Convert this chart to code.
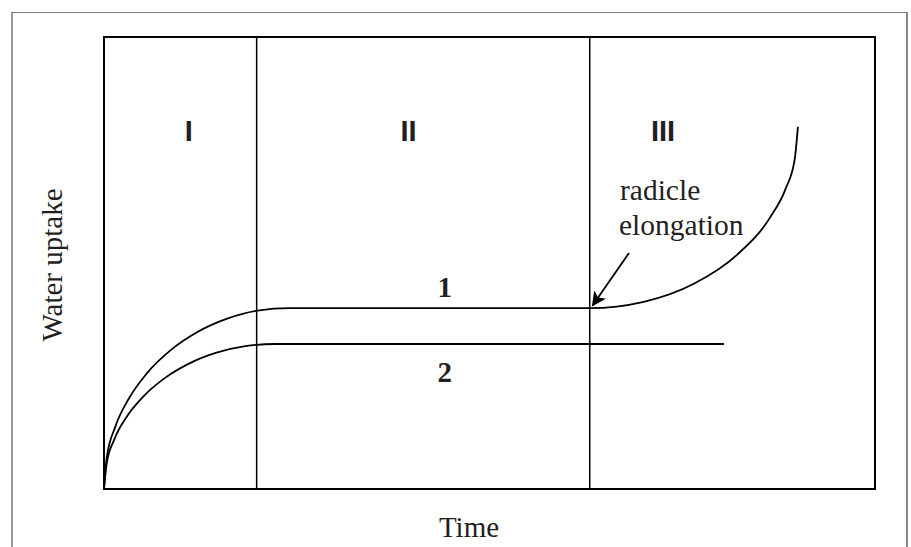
<!DOCTYPE html>
<html lang="en">
  <head>
    <meta charset="UTF-8" />
    <title>Water uptake</title>
    <style>
      body { margin: 0; background: #fff; }
      svg { display: block; }
    </style>
  </head>
  <body>
    <script src="https://d3js.org/d3.v7.min.js"></script>
    <script>
      // phase boundaries (time units) and phase names
      const phaseEdges = [0, 19.8, 63, 100];
      const phaseNames = ["I", "II", "III"];

      // curve 1 : germinating seed (time, uptake)
      const curve1Time = [0, 0.36, 1.45, 3.23, 5.64, 8.61, 12.06, 15.88, 19.92, 24.1, 63, 70, 76.5, 82.1, 86.4, 88.4, 89.6, 90];
      const curve1Uptake = [0, 6.97, 13.69, 20.02, 25.75, 30.66, 34.67, 37.63, 39.45, 40, 40, 41.4, 45.4, 51.8, 60.1, 66.4, 73.1, 80.1];

      // curve 2 : seed that stays in phase II
      const curve2Time = [0, 0.34, 1.34, 2.97, 5.19, 7.92, 11.09, 14.59, 18.33, 22.2, 80.4];
      const curve2Uptake = [0, 5.58, 10.97, 16.03, 20.62, 24.58, 27.79, 30.15, 31.59, 32.08, 32.08];

      const width = 911,
        height = 547;
      const margin = { left: 104, right: 36, top: 37, bottom: 58 };
      const ink = "#231f20";

      const svg = d3
        .select("body")
        .append("svg")
        .attr("width", width)
        .attr("height", height);

      // outer frame
      svg.append("line").attr("x1", 12).attr("y1", 12.5).attr("x2", 907).attr("y2", 12.5)
        .attr("stroke", "#808080").attr("stroke-width", 1);
      svg.append("line").attr("x1", 12).attr("y1", 12).attr("x2", 12).attr("y2", height)
        .attr("stroke", "#333").attr("stroke-width", 1);
      svg.append("line").attr("x1", 907).attr("y1", 12).attr("x2", 907).attr("y2", height)
        .attr("stroke", "#888").attr("stroke-width", 2);

      const x = d3
        .scaleLinear()
        .domain([0, 100])
        .range([margin.left, width - margin.right]);
      const y = d3
        .scaleLinear()
        .domain([0, 100])
        .range([height - margin.bottom, margin.top]);

      // plot box
      svg
        .append("rect")
        .attr("x", x(0))
        .attr("y", y(100))
        .attr("width", x(100) - x(0))
        .attr("height", y(0) - y(100))
        .attr("fill", "none")
        .attr("stroke", "#000")
        .attr("stroke-width", 2);

      // phase dividers
      svg
        .append("g")
        .selectAll("line")
        .data(phaseEdges.slice(1, -1))
        .join("line")
        .attr("x1", (d) => x(d))
        .attr("x2", (d) => x(d))
        .attr("y1", y(100))
        .attr("y2", y(0))
        .attr("stroke", "#000")
        .attr("stroke-width", 1.5);

      // phase labels
      const phaseLabelX = [11, 39.5, 72.5];
      svg
        .append("g")
        .selectAll("text")
        .data(phaseNames)
        .join("text")
        .attr("x", (d, i) => x(phaseLabelX[i]))
        .attr("y", 141)
        .attr("text-anchor", "middle")
        .attr("font-family", "Liberation Sans, Arial, sans-serif")
        .attr("font-weight", "bold")
        .attr("font-size", 29)
        .attr("fill", ink)
        .text((d) => d);

      const line = d3
        .line()
        .x((d) => x(d[0]))
        .y((d) => y(d[1]))
        .curve(d3.curveMonotoneX);

      const curve1 = curve1Time.map((t, i) => [t, curve1Uptake[i]]);
      const curve2 = curve2Time.map((t, i) => [t, curve2Uptake[i]]);

      [curve1, curve2].forEach((c) => {
        svg
          .append("path")
          .datum(c)
          .attr("d", line)
          .attr("fill", "none")
          .attr("stroke", "#000")
          .attr("stroke-width", 1.8);
      });

      // curve numbers
      const serif = "Liberation Serif, Times New Roman, serif";
      svg.append("text").attr("x", x(44.2)).attr("y", 297)
        .attr("text-anchor", "middle").attr("font-family", serif)
        .attr("font-weight", "bold").attr("font-size", 29).attr("fill", ink).text("1");
      svg.append("text").attr("x", x(44.2)).attr("y", 382)
        .attr("text-anchor", "middle").attr("font-family", serif)
        .attr("font-weight", "bold").attr("font-size", 29).attr("fill", ink).text("2");

      // annotation
      const note = svg.append("text").attr("font-family", serif)
        .attr("font-size", 29.5).attr("fill", ink);
      note.append("tspan").attr("x", 620).attr("y", 200).text("radicle");
      note.append("tspan").attr("x", 619).attr("y", 235).text("elongation");

      svg.append("defs").append("marker")
        .attr("id", "head")
        .attr("viewBox", "0 0 10 10")
        .attr("refX", 9).attr("refY", 5)
        .attr("markerWidth", 8).attr("markerHeight", 8)
        .attr("markerUnits", "strokeWidth")
        .attr("orient", "auto")
        .append("path").attr("d", "M0,0L10,5L0,10L2.5,5Z").attr("fill", "#000");

      svg.append("line")
        .attr("x1", 629).attr("y1", 253)
        .attr("x2", x(63) + 3).attr("y2", y(40) - 3)
        .attr("stroke", "#000").attr("stroke-width", 1.8)
        .attr("marker-end", "url(#head)");

      // axis titles
      svg.append("text").attr("x", 469).attr("y", 537)
        .attr("text-anchor", "middle").attr("font-family", serif)
        .attr("font-size", 29).attr("fill", ink).text("Time");
      svg.append("text")
        .attr("transform", `translate(62, ${(y(0) + y(100)) / 2 + 2}) rotate(-90)`)
        .attr("text-anchor", "middle").attr("font-family", serif)
        .attr("font-size", 29).attr("fill", ink).text("Water uptake");
    </script>
  </body>
</html>
